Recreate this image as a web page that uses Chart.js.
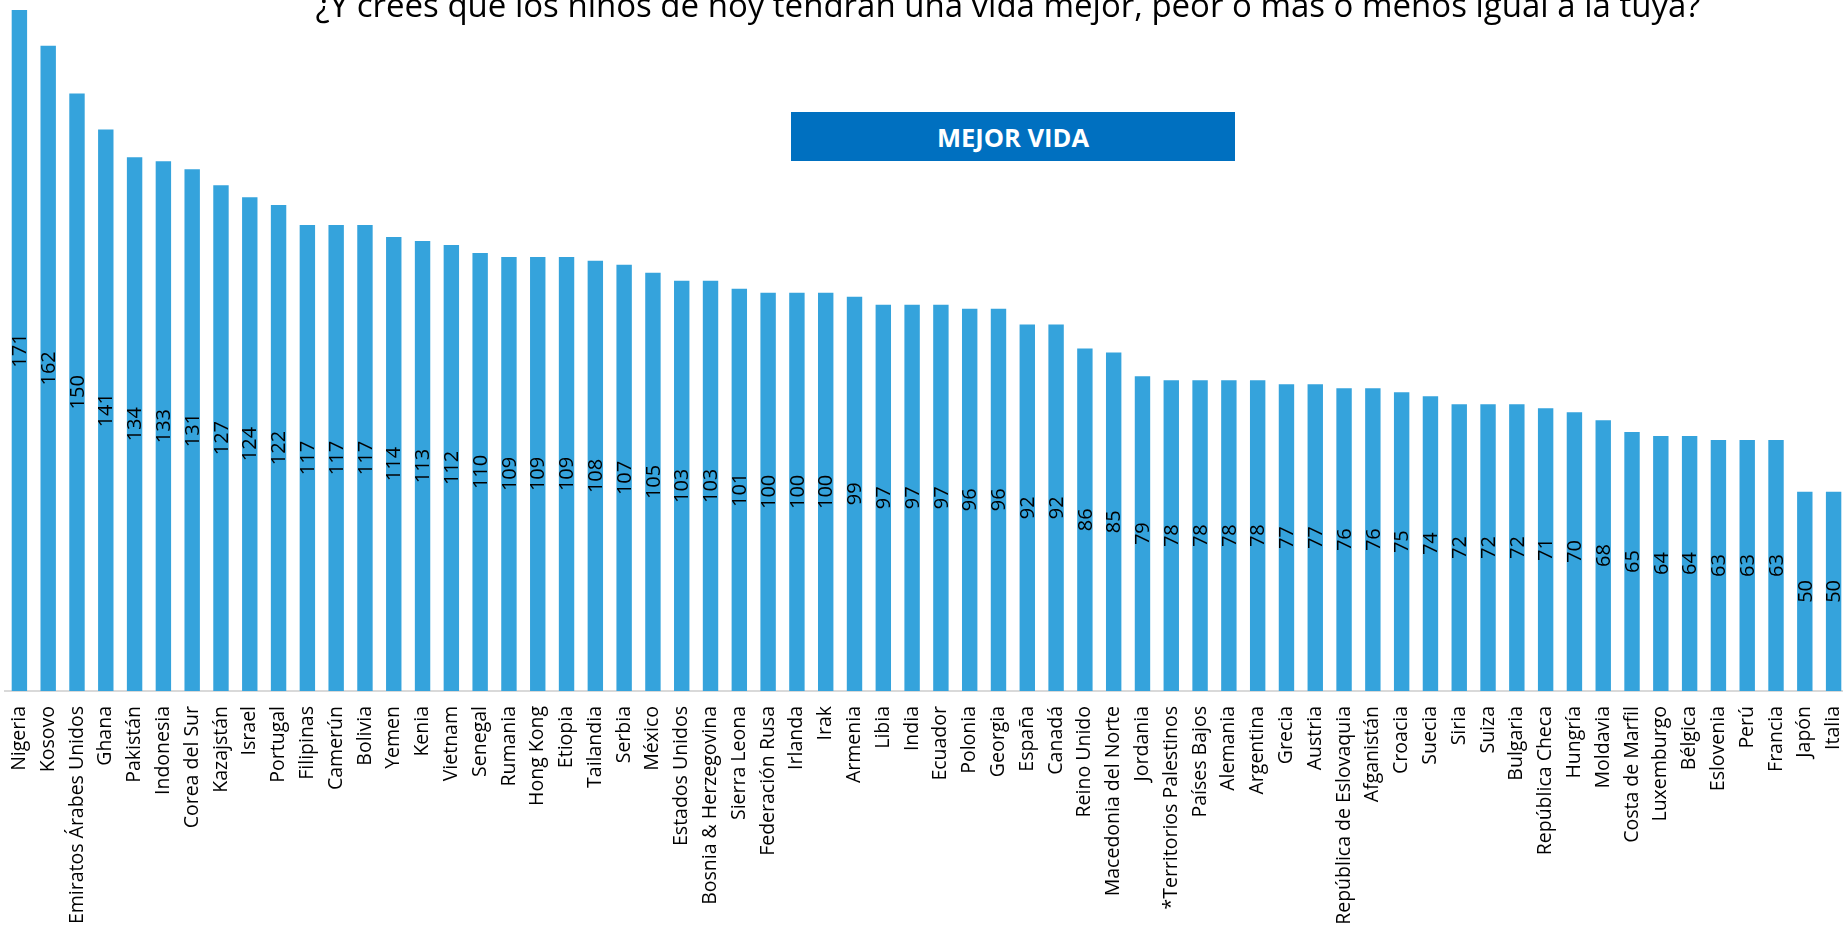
<!DOCTYPE html>
<html>
<head>
<meta charset="utf-8">
<script src="https://cdn.jsdelivr.net/npm/chart.js@4"></script>
<style>
  html, body { margin: 0; padding: 0; background: #ffffff; overflow: hidden; width: 1843px; height: 929px; }
  #wrap { position: absolute; left: 0; top: 0; width: 1850px; height: 929px; }
  #title { position: absolute; left: 1008px; top: -12px; transform: translateX(-50%); white-space: nowrap;
           font-family: "Open Sans", sans-serif; font-size: 33px; line-height: 1; color: #000; z-index: 2; }
  #badge { position: absolute; left: 791px; top: 112px; width: 444px; height: 49px; background: #0070C0;
           color: #fff; font-family: "Open Sans", sans-serif; font-weight: bold; font-size: 25.5px;
           display: flex; align-items: center; justify-content: center; z-index: 2; }
</style>
</head>
<body>
<div id="wrap"><canvas id="c"></canvas></div>
<div id="title">¿Y crees que los niños de hoy tendrán una vida mejor, peor o más o menos igual a la tuya?</div>
<div id="badge">MEJOR VIDA</div>
<script>
const categories = ["Nigeria","Kosovo","Emiratos Árabes Unidos","Ghana","Pakistán","Indonesia","Corea del Sur","Kazajstán","Israel","Portugal","Filipinas","Camerún","Bolivia","Yemen","Kenia","Vietnam","Senegal","Rumania","Hong Kong","Etiopia","Tailandia","Serbia","México","Estados Unidos","Bosnia & Herzegovina","Sierra Leona","Federación Rusa","Irlanda","Irak","Armenia","Libia","India","Ecuador","Polonia","Georgia","España","Canadá","Reino Unido","Macedonia del Norte","Jordania","*Territorios Palestinos","Países Bajos","Alemania","Argentina","Grecia","Austria","República de Eslovaquia","Afganistán","Croacia","Suecia","Siria","Suiza","Bulgaria","República Checa","Hungría","Moldavia","Costa de Marfil","Luxemburgo","Bélgica","Eslovenia","Perú","Francia","Japón","Italia"];
const values = [171,162,150,141,134,133,131,127,124,122,117,117,117,114,113,112,110,109,109,109,108,107,105,103,103,101,100,100,100,99,97,97,97,96,96,92,92,86,85,79,78,78,78,78,77,77,76,76,75,74,72,72,72,71,70,68,65,64,64,63,63,63,50,50];

const barLabels = {
  id: 'barLabels',
  afterDatasetsDraw(chart) {
    const ctx = chart.ctx;
    const meta = chart.getDatasetMeta(0);
    ctx.save();
    ctx.fillStyle = '#000000';
    ctx.font = '20px "Open Sans", sans-serif';
    ctx.textAlign = 'center';
    ctx.textBaseline = 'middle';
    meta.data.forEach((bar, i) => {
      const cy = (bar.y + bar.base) / 2;
      ctx.save();
      ctx.translate(bar.x, cy);
      ctx.rotate(-Math.PI / 2);
      ctx.fillText(String(values[i]), 0, 1);
      ctx.restore();
    });
    ctx.restore();
  }
};

new Chart(document.getElementById('c'), {
  type: 'bar',
  data: {
    labels: categories,
    datasets: [{
      data: values,
      backgroundColor: '#35A3DC',
      borderWidth: 0,
      barPercentage: 0.535,
      categoryPercentage: 1.0
    }]
  },
  options: {
    responsive: true,
    maintainAspectRatio: false,
    animation: false,
    layout: { padding: { left: 5, right: 2, top: 0, bottom: 0 } },
    plugins: { legend: { display: false }, tooltip: { enabled: false }, title: { display: false } },
    scales: {
      x: {
        grid: { display: false, drawTicks: false },
        border: { display: true, color: '#D9D9D9', width: 2 },
        ticks: {
          autoSkip: false, maxRotation: 90, minRotation: 90, padding: 15,
          color: '#000000', font: { family: '"Open Sans", sans-serif', size: 19.5 }
        },
        afterFit(scale) { scale.height = 238; scale.paddingLeft = 0; scale.paddingRight = 0; }
      },
      y: { display: false, min: 0, max: 173.5 }
    }
  },
  plugins: [barLabels]
});
</script>
</body>
</html>
